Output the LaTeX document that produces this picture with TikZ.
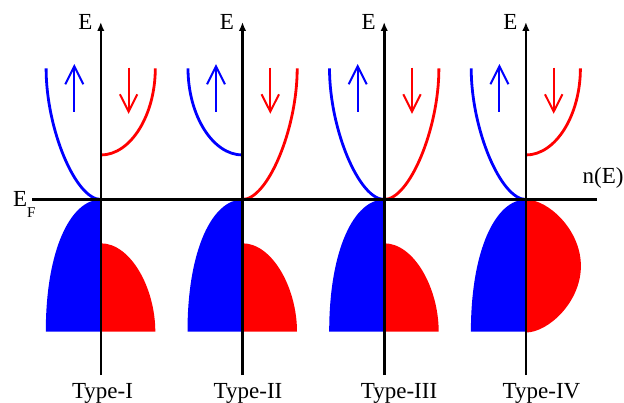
\documentclass[tikz,border=0pt]{standalone}
\usepackage{fontspec}
\setmainfont{Liberation Serif}
\usetikzlibrary{arrows.meta}
\definecolor{upb}{RGB}{0,0,255}
\definecolor{dnr}{RGB}{255,0,0}
\tikzset{
  band/.style={line width=2.8pt},
  spin/.style={line width=2pt, line join=miter, line cap=butt},
  axisline/.style={line width=2.6pt, black},
  lab/.style={font=\fontsize{23}{27}\selectfont, inner sep=0pt},
  pics/bluefull/.style={code={\draw[band,upb] (0,199.5) .. controls (-25,199.5) and (-54.7,129.5) .. (-54.7,68.3);}},
  pics/redfull/.style={code={\draw[band,dnr] (0,199.5) .. controls (25,199.5) and (54.7,129.5) .. (54.7,68.3);}},
  pics/bluetrunc/.style={code={\draw[band,upb] (0,155) .. controls (-30,155) and (-54.5,115) .. (-54.5,68.3);}},
  pics/redtrunc/.style={code={\draw[band,dnr] (0,155) .. controls (30,155) and (54.5,115) .. (54.5,68.3);}},
  pics/bluedome/.style={code={\fill[upb] (0,199.5) .. controls (-30,199.5) and (-55,249.5) .. (-55,331.7) -- (0,331.7) -- cycle;}},
  pics/reddome/.style={code={\fill[dnr] (0,243.3) .. controls (30,243.3) and (54.5,288.3) .. (54.5,331.7) -- (0,331.7) -- cycle;}},
  pics/redhalf/.style={code={\fill[dnr] (0,199.5) .. controls (22,199.5) and (55,229.5) .. (55,266) .. controls (55,302.5) and (22,332.5) .. (0,332.5) -- cycle;}},
  pics/uparrow/.style={code={\draw[spin,upb] (-26.5,111.7) -- (-26.5,67); \draw[spin,upb] (-35.5,84.3) -- (-26.5,66.3) -- (-17.5,84.3);}},
  pics/downarrow/.style={code={\draw[spin,dnr] (27.8,67.7) -- (27.8,111); \draw[spin,dnr] (19.1,94.3) -- (27.8,111.6) -- (36.5,94.3);}},
}
\begin{document}
\begin{tikzpicture}[x=1pt,y=-1pt]
\useasboundingbox (0,0) rectangle (624,403);
% valence fills
\pic at (100.8,0) {bluedome}; \pic at (100.8,0) {reddome};
\pic at (242.5,0) {bluedome}; \pic at (242.5,0) {reddome};
\pic at (384.2,0) {bluedome}; \pic at (384.2,0) {reddome};
\pic at (525.9,0) {bluedome}; \pic at (525.9,0) {redhalf};
% conduction bands
\pic at (100.8,0) {bluefull}; \pic at (100.8,0) {redtrunc};
\pic at (242.5,0) {bluetrunc}; \pic at (242.5,0) {redfull};
\pic at (384.2,0) {bluefull}; \pic at (384.2,0) {redfull};
\pic at (525.9,0) {bluefull}; \pic at (525.9,0) {redtrunc};
% spin arrows
\foreach \ax in {100.8,242.5,384.2,525.9}{
  \pic at (\ax,0) {uparrow};
  \pic at (\ax,0) {downarrow};
}
% axes
\coordinate (efl) at (32,199.5);
\coordinate (efr) at (597,199.5);
\draw[line width=2.5pt,black] (efl) -- (efr);
\foreach \i/\ax in {1/100.8,2/242.5,3/384.2,4/525.9}{
  \coordinate (b\i) at (\ax,375);
  \coordinate (t\i) at (\ax,22);
  \draw[axisline,-{Latex[length=9pt,width=7.5pt]}] (b\i) -- (t\i);
  \node[lab,anchor=base] (E\i) at (\ax-15.5,30) {E};
}
% labels
\node[lab,anchor=base west] (EF) at (13,207) {E\raisebox{-11pt}{\fontsize{15}{17}\selectfont F}};
\node[lab,anchor=base west] (nE) at (582.5,183.3) {n(E)};
\node[lab,anchor=base] (T1) at (102.5,398.3) {Type-I};
\node[lab,anchor=base] (T2) at (248,398.3) {Type-II};
\node[lab,anchor=base] (T3) at (399,398.3) {Type-III};
\node[lab,anchor=base] (T4) at (541.5,398.3) {Type-IV};
\end{tikzpicture}
\end{document}
